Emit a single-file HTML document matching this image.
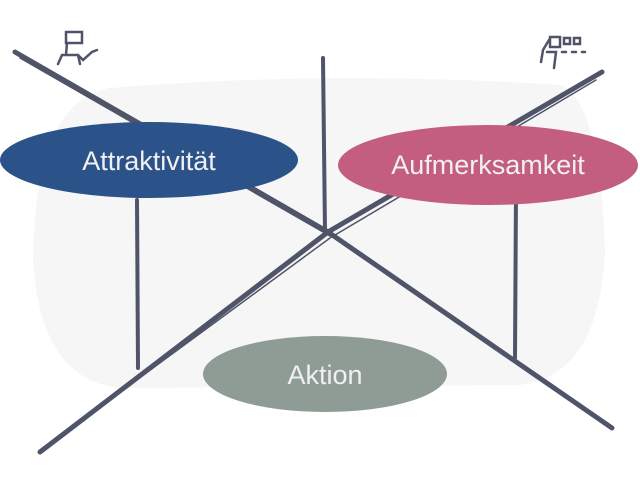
<!DOCTYPE html>
<html><head><style>body{margin:0;background:#fff}svg{display:block}</style></head><body>
<svg width="640" height="480" viewBox="0 0 640 480" xmlns="http://www.w3.org/2000/svg">
<path d="M110,88 Q330,70 560,85 Q600,100 605,250 Q600,375 520,385 L120,388 Q40,380 33,260 Q35,100 110,88Z" fill="#f6f6f6"/>
<g stroke="#4f5469" stroke-linecap="round" fill="none">
<path d="M15,52 L328,232 L612,428" stroke-width="5"/>
<path d="M20,58 L330,236" stroke-width="1.5"/>
<path d="M602,72 L328,232 L40,452" stroke-width="5"/>
<path d="M596,80 L330,238 L44,448" stroke-width="1.5"/>
<path d="M323,58 L325,232" stroke-width="4"/>
<path d="M137,200 L138,368" stroke-width="4"/>
<path d="M516,190 L515,358" stroke-width="4"/>
<g stroke-width="2.5">
<rect x="66" y="32" width="16" height="11"/>
<path d="M67,43 L66,55 M58,64 L62,55 L78,55 L80,64 M78,55 L83,60 L92,52 L97,50"/>
<rect x="550" y="37" width="10" height="10"/><rect x="564" y="38" width="6" height="6"/><rect x="574" y="38" width="6" height="6"/>
<path d="M549,40 L543,50 L541,62 M547,52 L556,52 L554,68 M562,52 L566,52 M572,52 L576,52 M582,52 L585,52"/>
</g></g>
<g font-family="Liberation Sans, sans-serif" font-size="27" fill="#f0f0f0" text-anchor="middle">
<ellipse cx="149" cy="160" rx="149" ry="38" fill="#2c5389"/>
<text x="149" y="170">Attraktivität</text>
<ellipse cx="488" cy="165" rx="150" ry="40" fill="#c45e80"/>
<text x="488" y="174">Aufmerksamkeit</text>
<ellipse cx="325" cy="374" rx="122" ry="38" fill="#8e9c95"/>
<text x="325" y="384">Aktion</text>
</g>
</svg>
</body></html>
